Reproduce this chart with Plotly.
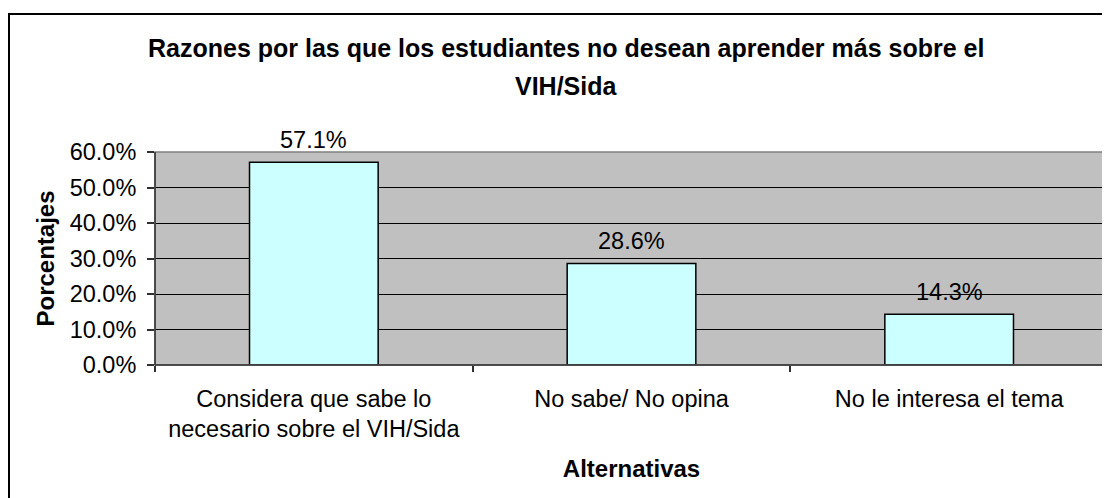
import plotly.graph_objects as go

categories = ["Considera que sabe lo<br>necesario sobre el VIH/Sida",
              "No sabe/ No opina",
              "No le interesa el tema"]
values = [0.571, 0.286, 0.143]
labels = ["57.1%", "28.6%", "14.3%"]
title_lines = ["Razones por las que los estudiantes no desean aprender más sobre el", "VIH/Sida"]

FONT = "Liberation Sans, Arial, sans-serif"
FS = 23.5

fig = go.Figure()
fig.add_trace(go.Bar(
    x=categories, y=values, width=0.405,
    marker=dict(color="#CCFFFF", line=dict(color="#000000", width=1.5)),
    hoverinfo="skip", cliponaxis=False,
))

# page has an 8px body margin, so the figure is sized to the remaining viewport
W, H = 1102, 490
L, R, T, B = 147, 2, 144, 133
pw, ph = W - L - R, H - T - B

def px_x(px):
    return (px - L) / pw

def px_y(py):
    return (H - B - py) / ph

annotations = []
for c, v, t in zip(categories, values, labels):
    annotations.append(dict(x=c, y=v, xref="x", yref="y", text=t, showarrow=False,
                            yanchor="middle", yshift=22,
                            font=dict(family=FONT, size=FS, color="#000")))
for line, ypx in zip(title_lines, [40, 78]):
    annotations.append(dict(x=px_x(558), y=px_y(ypx), xref="paper", yref="paper",
                            text="<b>%s</b>" % line, showarrow=False,
                            xanchor="center", yanchor="middle",
                            font=dict(family=FONT, size=25, color="#000")))

shapes = [
    # outer chart border (extends past the cropped right/bottom edges)
    dict(type="rect", xref="paper", yref="paper", x0=px_x(1), x1=px_x(1130),
         y0=px_y(520), y1=px_y(6), line=dict(color="#000", width=2), layer="below"),
    # plot area border
    dict(type="rect", xref="paper", yref="paper", x0=0, x1=1, y0=0, y1=1,
         line=dict(color="#808080", width=1.5), layer="above"),
    dict(type="line", xref="paper", yref="paper", x0=0, x1=1, y0=0, y1=0,
         line=dict(color="#303030", width=1.5), layer="above"),
    dict(type="line", xref="paper", yref="paper", x0=0, x1=0, y0=0, y1=1,
         line=dict(color="#303030", width=1.5), layer="above"),
]

fig.update_layout(
    width=W, height=H,
    margin=dict(l=L, r=R, t=T, b=B, autoexpand=False),
    paper_bgcolor="#FFFFFF", plot_bgcolor="#C0C0C0",
    font=dict(family=FONT, size=FS, color="#000"),
    showlegend=False, bargap=0.595,
    annotations=annotations, shapes=shapes,
)
fig.update_xaxes(
    type="category", tickson="boundaries", ticks="outside", ticklen=6,
    tickcolor="#303030", tickwidth=1.5, showgrid=False, zeroline=False,
    showline=False, tickfont=dict(family=FONT, size=FS, color="#000"),
    ticklabelstandoff=17,
    title=dict(text="<b>Alternativas</b>", font=dict(family=FONT, size=24, color="#000"),
               standoff=19),
)
fig.update_yaxes(
    range=[0, 0.6], dtick=0.1, tickformat=".1%", ticks="outside", ticklen=7,
    tickcolor="#303030", tickwidth=1.5, showgrid=True, gridcolor="#000000",
    gridwidth=1, zeroline=False, showline=False,
    tickfont=dict(family=FONT, size=FS, color="#000"), ticklabelstandoff=6,
    title=dict(text="<b>Porcentajes</b>", font=dict(family=FONT, size=24, color="#000"),
               standoff=8),
)

fig.write_html("out.html")
